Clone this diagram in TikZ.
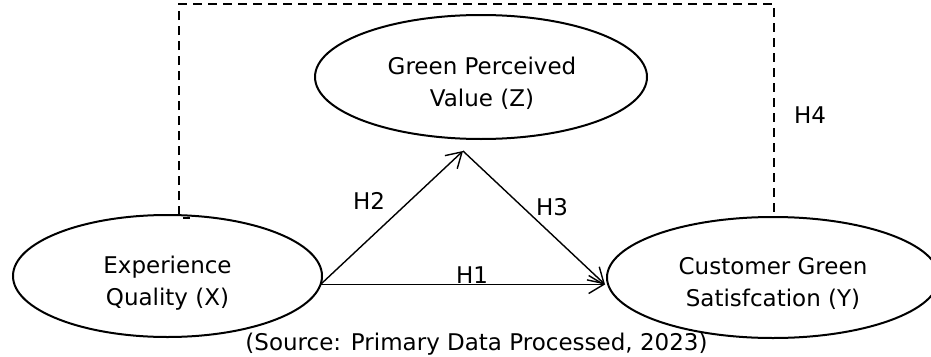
\documentclass[tikz,border=0pt]{standalone}
\usepackage{fontspec}
\setmainfont{DejaVu Sans}
\usetikzlibrary{arrows.meta,shapes.geometric}
\begin{document}
\begin{tikzpicture}[x=1pt,y=-1pt,
  construct/.style={draw,ellipse,line width=2pt,inner sep=0pt},
  caption/.style={font=\fontsize{23}{32}\selectfont,align=center,inner sep=0pt,anchor=base},
  path/.style={line width=1.4pt,-{Straight Barb[length=15pt,width=18pt,line width=1.4pt]}},
  mediation/.style={line width=2pt,dash pattern=on 9pt off 6pt}]
\useasboundingbox (0,0) rectangle (931,356);

% latent constructs
\node[construct,minimum width=332pt,minimum height=124pt] (Z) at (481,77) {};
\node[construct,minimum width=309pt,minimum height=122pt] (X) at (167.5,276) {};
\node[construct,minimum width=332pt,minimum height=121pt] (Y) at (773,277.5) {};

% construct names (base anchor sits on the last line)
\node[caption] (Zt) at (482,106) {Green Perceived\\Value (Z)};
\node[caption] (Xt) at (167.5,305) {Experience\\Quality (X)};
\node[caption] (Yt) at (773,306) {Customer Green\\Satisfcation (Y)};

% connection points
\coordinate (xout) at (320.5,284.5);
\coordinate (zin) at (463,151);
\coordinate (yin) at (605,284.5);
\coordinate (dl) at (179,215);
\coordinate (tl) at (179,4);
\coordinate (tr) at (774,4);
\coordinate (dr) at (774,212);

% hypothesised paths
\draw[path] (xout) -- (zin);
\draw[path] (zin) -- (yin);
\draw[path] (xout) -- (yin);
\draw[mediation] (dl) -- (tl) -- (tr) -- (dr);
\draw[line width=2pt] (183,218) -- (190,218);

% path labels
\node[caption] (h1) at (472,283) {H1};
\node[caption] (h2) at (369,209) {H2};
\node[caption] (h3) at (552,215) {H3};
\node[caption] (h4) at (810,123) {H4};

\node[caption] (src) at (476.5,350) {(Source: Primary Data Processed, 2023)};
\end{tikzpicture}
\end{document}
